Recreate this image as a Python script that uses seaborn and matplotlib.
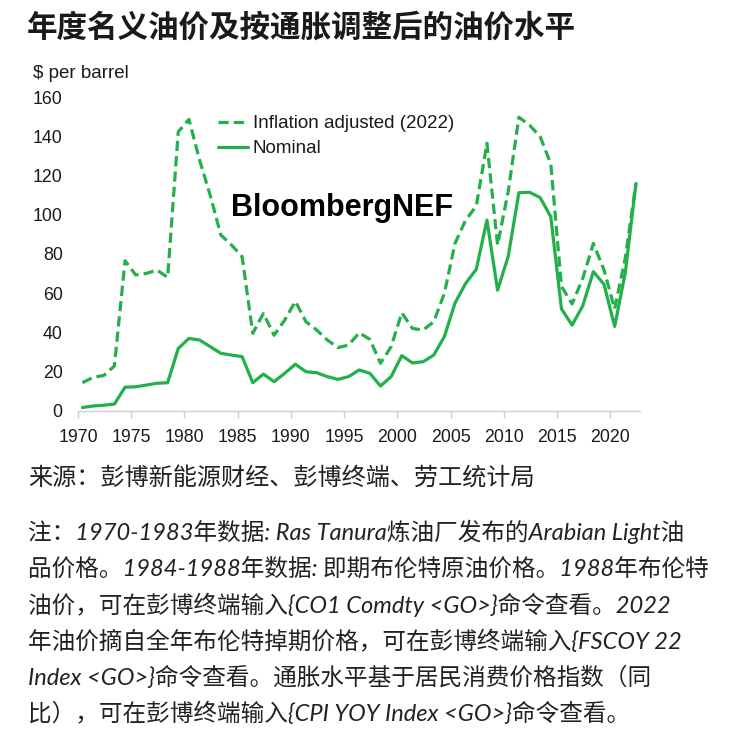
import numpy as np
import pandas as pd
import matplotlib
matplotlib.use("Agg")
import matplotlib.pyplot as plt
import seaborn as sns

# ---------------- data ----------------
years = list(range(1970, 2023))
nominal = [1.6, 2.4, 2.8, 3.4, 12.0, 12.2, 13.1, 14.0, 14.3, 31.8,
           36.9, 36.1, 32.7, 29.3, 28.4, 27.6, 14.3, 18.7, 14.8, 19.1,
           23.7, 19.9, 19.4, 17.4, 16.0, 17.4, 20.8, 19.1, 12.6, 17.4,
           28.1, 24.4, 25.0, 28.4, 37.8, 55.0, 65.0, 72.2, 97.3, 61.5,
           78.8, 111.3, 111.5, 108.8, 99.0, 52.0, 43.7, 53.5, 71.0, 64.5,
           43.0, 70.5, 116.0]
inflation_adjusted = [14.3, 17.0, 18.0, 22.8, 76.6, 69.3, 70.1, 71.8, 68.1, 142.4,
                      148.7, 128.0, 110.0, 89.7, 84.6, 78.6, 39.5, 49.7, 38.5, 46.3,
                      55.8, 45.4, 41.2, 36.1, 32.2, 33.5, 39.8, 36.4, 24.2, 32.7,
                      50.0, 42.0, 41.2, 45.4, 59.9, 85.4, 97.3, 104.5, 136.5, 84.6,
                      112.0, 149.8, 145.8, 139.9, 126.0, 63.5, 54.5, 67.5, 85.4, 71.8,
                      52.0, 78.0, 116.0]
series_names = ["Inflation adjusted (2022)", "Nominal"]
x_tick_years = [1970, 1975, 1980, 1985, 1990, 1995, 2000, 2005, 2010, 2015, 2020]
y_ticks = [0, 20, 40, 60, 80, 100, 120, 140, 160]

title = "年度名义油价及按通胀调整后的油价水平"
unit_label = "$ per barrel"
watermark = "BloombergNEF"
source = "来源：彭博新能源财经、彭博终端、劳工统计局"
note_lines = [
    "注：1970-1983年数据: Ras Tanura炼油厂发布的Arabian Light油",
    "品价格。1984-1988年数据: 即期布伦特原油价格。1988年布伦特",
    "油价，可在彭博终端输入{CO1 Comdty <GO>}命令查看。2022",
    "年油价摘自全年布伦特掉期价格，可在彭博终端输入{FSCOY 22",
    "Index <GO>}命令查看。通胀水平基于居民消费价格指数（同",
    "比），可在彭博终端输入{CPI YOY Index <GO>}命令查看。",
]

df = pd.DataFrame({
    "year": years * 2,
    "value": inflation_adjusted + nominal,
    "series": [series_names[0]] * len(years) + [series_names[1]] * len(years),
})

# ---------------- style ----------------
sns.set_theme(style="white")
plt.rcParams["font.family"] = ["Liberation Sans", "Noto Sans CJK SC", "DejaVu Sans"]
GREEN = "#22B04B"
W, H = 733, 740
fig = plt.figure(figsize=(W / 100, H / 100), dpi=100)
ax_left, ax_right, ax_top, ax_bottom = 78, 640, 97.3, 410.7
ax = fig.add_axes([ax_left / W, 1 - ax_bottom / H,
                   (ax_right - ax_left) / W, (ax_bottom - ax_top) / H])

sns.lineplot(data=df, x="year", y="value", hue="series", style="series",
             hue_order=series_names, style_order=series_names,
             palette={series_names[0]: GREEN, series_names[1]: GREEN},
             dashes={series_names[0]: (3.2, 1.6), series_names[1]: ""},
             linewidth=2.3, legend=False, ax=ax)

# ticks sit ~0.4 yr left of the data points in the original
x0 = years[0] - 0.42
x1 = years[-1] + 0.38
ax.set_xlim(x0, x1)
ax.set_ylim(0, 160)
ax.set_xticks([y - 0.42 for y in x_tick_years])
ax.set_xticklabels([str(y) for y in x_tick_years])
ax.set_yticks(y_ticks)
ax.set_yticklabels([str(v) for v in y_ticks])
ax.set_xlabel("")
ax.set_ylabel("")
for s in ["top", "right", "left"]:
    ax.spines[s].set_visible(False)
ax.spines["bottom"].set_color("#D0D0D0")
ax.spines["bottom"].set_linewidth(1.0)
ax.tick_params(axis="x", which="both", bottom=True, length=5, width=1.0,
               color="#D0D0D0", labelsize=12.8, labelcolor="#1a1a1a", pad=8)
ax.tick_params(axis="y", length=0, labelsize=12.8, labelcolor="#1a1a1a", pad=11)
ax.grid(False)
ax.set_facecolor("white")

# legend
handles = ax.get_lines()[:2]
leg = ax.legend(handles, series_names, loc="upper left",
                bbox_to_anchor=(218 / W, 1 - 115 / H), bbox_transform=fig.transFigure,
                frameon=False, fontsize=13.5, handlelength=1.6, handletextpad=0.25,
                labelspacing=0.42, borderpad=0, borderaxespad=0)
for t in leg.get_texts():
    t.set_color("#1a1a1a")

# watermark
fig.text(231 / W, 1 - 208 / H, watermark, fontsize=22, fontweight="bold",
         color="black", va="center", ha="left", family=["Liberation Sans"])

# title and unit
fig.text(27 / W, 1 - 28 / H, title, fontsize=22, fontweight="bold",
         color="#1a1a1a", va="center", ha="left",
         family=["Noto Sans CJK SC", "DejaVu Sans"])
fig.text(33 / W, 1 - 74 / H, unit_label, fontsize=13.5, color="#1a1a1a",
         va="center", ha="left", family=["Liberation Sans"])

# source and notes
note_family = ["Lato", "Noto Sans CJK SC", "DejaVu Sans"]
fig.text(28 / W, 1 - 478 / H, source, fontsize=17.4, color="#222222",
         va="center", ha="left", style="italic", family=note_family)
line_y = [532, 568.5, 605, 641, 677, 713]
for ly, txt in zip(line_y, note_lines):
    fig.text(28 / W, 1 - ly / H, txt, fontsize=17.0, color="#222222",
             va="center", ha="left", style="italic", family=note_family)

fig.savefig("out.png", dpi=100, facecolor="white")
